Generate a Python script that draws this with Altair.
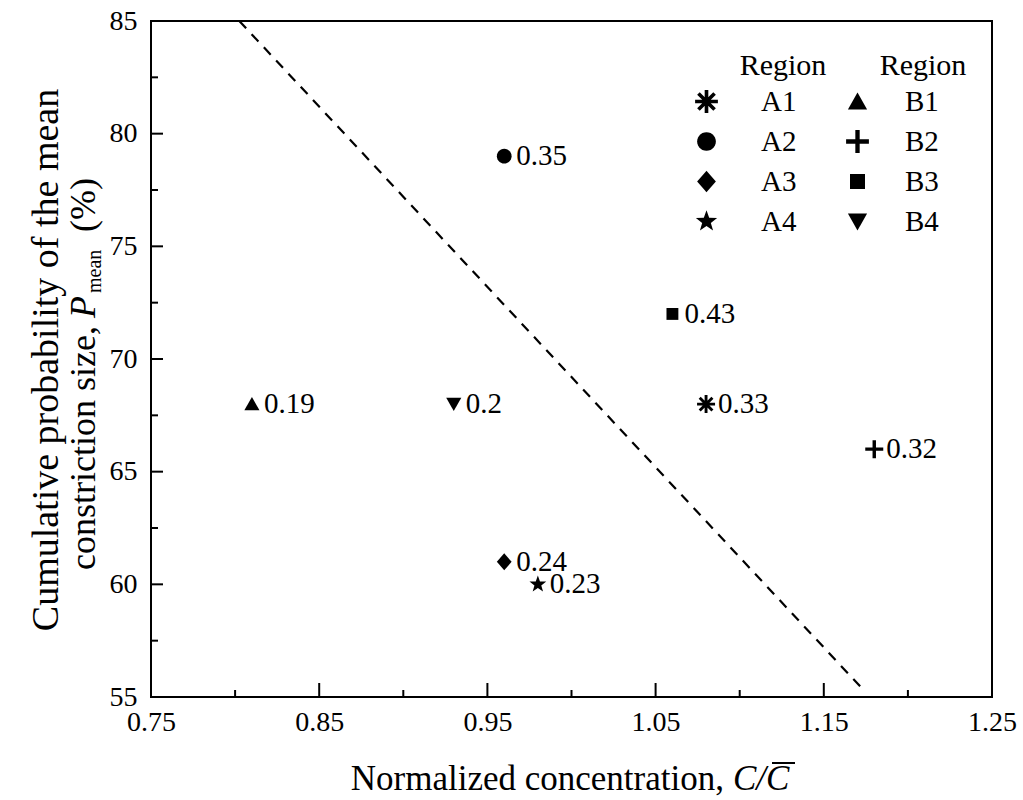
import math
import altair as alt
import pandas as pd

# ---------------- data ----------------
regions = ["A1", "A2", "A3", "A4", "B1", "B2", "B3", "B4"]
conc = [1.08, 0.96, 0.96, 0.98, 0.81, 1.18, 1.06, 0.93]
pmean = [68, 79, 61, 60, 68, 66, 72, 68]
point_labels = ["0.33", "0.35", "0.24", "0.23", "0.19", "0.32", "0.43", "0.2"]

line_x = [0.8025, 1.1725]
line_y = [85, 55.4]

x_major = [0.75, 0.85, 0.95, 1.05, 1.15, 1.25]
x_minor = [0.80, 0.90, 1.00, 1.10, 1.20]
y_major = [55, 60, 65, 70, 75, 80, 85]
y_minor = [57.5, 62.5, 67.5, 72.5, 77.5, 82.5]

FONT = "Liberation Serif"
W, H = 841, 676


# ---------------- marker shapes (unit square -1..1) ----------------
def poly(pts):
    return "M" + " L".join(f"{x:.3f},{y:.3f}" for x, y in pts) + " Z"


def asterisk(L=1.0, w=0.16):
    parts = []
    for ang in [0, 45, 90, 135]:
        a = math.radians(ang)
        c, s = math.cos(a), math.sin(a)
        corners = [(L, w), (-L, w), (-L, -w), (L, -w)]
        parts.append(poly([(x * c - y * s, x * s + y * c) for x, y in corners]))
    return " ".join(parts)


def circle(r=0.82, n=28):
    return poly([(r * math.cos(2 * math.pi * i / n), r * math.sin(2 * math.pi * i / n)) for i in range(n)])


def star(R=0.98, r=0.4):
    pts = []
    for i in range(10):
        a = math.radians(-90 + 36 * i)
        rr = R if i % 2 == 0 else r
        pts.append((rr * math.cos(a), rr * math.sin(a)))
    return poly(pts)


def plus(L=1.0, w=0.19):
    return poly([(-w, -L), (w, -L), (w, -w), (L, -w), (L, w), (w, w), (w, L), (-w, L),
                 (-w, w), (-L, w), (-L, -w), (-w, -w)])


shape_paths = {
    "A1": asterisk(),
    "A2": circle(),
    "A3": poly([(0, -0.95), (0.82, 0), (0, 0.95), (-0.82, 0)]),
    "A4": star(),
    "B1": poly([(0, -0.78), (0.84, 0.7), (-0.84, 0.7)]),
    "B2": plus(),
    "B3": poly([(-0.66, -0.66), (0.66, -0.66), (0.66, 0.66), (-0.66, 0.66)]),
    "B4": poly([(0, 0.78), (0.84, -0.7), (-0.84, -0.7)]),
}

df = pd.DataFrame({"region": regions, "conc": conc, "pmean": pmean, "lab": point_labels})
dfA = df[df.region.str.startswith("A")]
dfB = df[df.region.str.startswith("B")]

xscale = alt.Scale(domain=[0.75, 1.25], nice=False, zero=False)
yscale = alt.Scale(domain=[55, 85], nice=False, zero=False)
xaxis = alt.Axis(values=x_major, format=".2f", ticks=False, domain=False, grid=False, title=None,
                 labelFont=FONT, labelFontSize=28, labelColor="black", labelPadding=11,
                 labelFlush=False, labelOverlap=False)
yaxis = alt.Axis(values=y_major, format="d", ticks=False, domain=False, grid=False, title=None,
                 labelFont=FONT, labelFontSize=28, labelColor="black", labelPadding=14,
                 labelOverlap=False)


def X(field):
    return alt.X(field, type="quantitative", scale=xscale, axis=xaxis)


def Y(field):
    return alt.Y(field, type="quantitative", scale=yscale, axis=yaxis)


# dashed line
line = alt.Chart(pd.DataFrame({"x": line_x, "y": line_y})).mark_line(
    color="black", strokeWidth=2.2, strokeDash=[10, 8], clip=True
).encode(x=X("x"), y=Y("y"))

# inward ticks
xt_major = alt.Chart(pd.DataFrame({"v": x_major})).mark_rule(color="black", strokeWidth=2).encode(
    x=X("v"), y=alt.value(H), y2=alt.value(H - 14))
xt_minor = alt.Chart(pd.DataFrame({"v": x_minor})).mark_rule(color="black", strokeWidth=2).encode(
    x=X("v"), y=alt.value(H), y2=alt.value(H - 7))
yt_major = alt.Chart(pd.DataFrame({"v": y_major})).mark_rule(color="black", strokeWidth=2).encode(
    y=Y("v"), x=alt.value(0), x2=alt.value(12))
yt_minor = alt.Chart(pd.DataFrame({"v": y_minor})).mark_rule(color="black", strokeWidth=2).encode(
    y=Y("v"), x=alt.value(0), x2=alt.value(7))


def legend(lx, ly, offset):
    return alt.Legend(title=None, orient="none", legendX=lx, legendY=ly,
                      labelFont=FONT, labelFontSize=29, labelColor="black", labelOffset=offset,
                      rowPadding=10, symbolSize=520, symbolFillColor="black",
                      symbolStrokeColor="black", symbolStrokeWidth=0, symbolOpacity=1,
                      padding=0)


ptsA = alt.Chart(dfA).mark_point(filled=True, size=324, color="black", opacity=1, strokeWidth=0).encode(
    x=X("conc"), y=Y("pmean"),
    shape=alt.Shape("region:N",
                    scale=alt.Scale(domain=regions[:4], range=[shape_paths[r] for r in regions[:4]]),
                    legend=legend(541, 66, 40)))
ptsB = alt.Chart(dfB).mark_point(filled=True, size=324, color="black", opacity=1, strokeWidth=0).encode(
    x=X("conc"), y=Y("pmean"),
    shape=alt.Shape("region:N",
                    scale=alt.Scale(domain=regions[4:], range=[shape_paths[r] for r in regions[4:]]),
                    legend=legend(692, 66, 33)))

texts = alt.Chart(df).mark_text(align="left", baseline="middle", dx=12, font=FONT, fontSize=29,
                                color="black").encode(x=X("conc"), y=Y("pmean"), text="lab:N")


def label(txt, x, y, size=36, align="center", angle=0, style="normal", baseline="alphabetic"):
    kw = dict(text=txt, font=FONT, fontSize=size, align=align, baseline=baseline, color="black",
              fontStyle=style)
    if angle:
        kw["angle"] = angle
    return alt.Chart(pd.DataFrame({"k": [0]})).mark_text(**kw).encode(x=alt.value(x), y=alt.value(y))


titles = [
    # x title
    label("Normalized concentration,", 573, 769, 35, align="right"),
    label("C/C", 582, 769, 35, align="left", style="italic"),
    # y title
    label("Cumulative probability of the mean", -93, 339, 38, angle=270),
    label("constriction size,", -56, 305, 36, align="right", angle=270),
    label("P", -56, 297, 36, align="left", angle=270, style="italic"),
    label("mean", -50, 272, 20, align="left", angle=270),
    label("(%)", -56, 211, 36, align="left", angle=270),
    # legend headers
    label("Region", 632, 54, 30),
    label("Region", 772, 54, 30),
]
overline = alt.Chart(pd.DataFrame({"k": [0]})).mark_rule(color="black", strokeWidth=2).encode(
    x=alt.value(621), x2=alt.value(644), y=alt.value(742))

chart = alt.layer(
    line, xt_major, xt_minor, yt_major, yt_minor, ptsA, ptsB, texts, *titles, overline
).resolve_scale(shape="independent").properties(
    width=W, height=H,
    autosize=alt.AutoSizeParams(type="none"),
    padding={"left": 151, "top": 21, "right": 31, "bottom": 103},
    background="white",
).configure_view(stroke="black", strokeWidth=2)

chart.save("out.html", embed_options={"renderer": "svg", "actions": False})
